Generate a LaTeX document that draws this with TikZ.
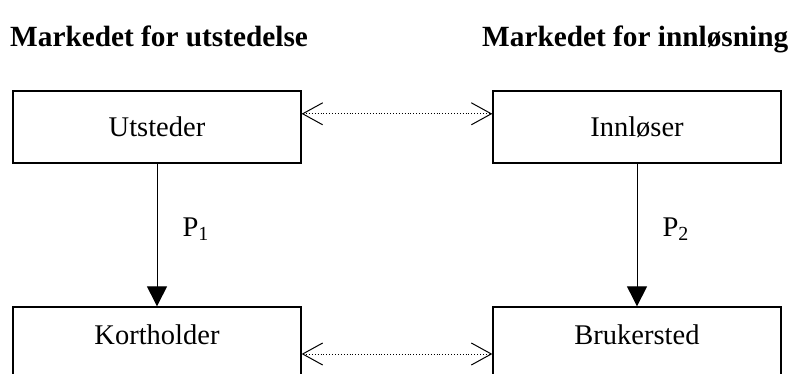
\documentclass[tikz,border=0pt]{standalone}
\usepackage{fontspec}
\setmainfont{Liberation Serif}
\usepackage{tikz}
\usetikzlibrary{positioning, calc, arrows.meta}

\begin{document}
\begin{tikzpicture}[x=1pt, y=-1pt,
        party/.style={draw, line width=1.3pt, minimum width=288pt, minimum height=72pt, inner sep=0pt, font=\fontsize{28.5}{34}\selectfont},
        market/.style={anchor=base west, inner sep=0pt, font=\bfseries\fontsize{29.3}{34}\selectfont},
        price/.style={right=25pt, yshift=6pt, inner sep=0pt, font=\fontsize{28.5}{34}\selectfont},
        pay/.style={-{Triangle[length=20pt, width=20pt]}, line width=1pt},
        link/.style={{Straight Barb[length=20pt, width=22pt, line width=1pt]}-{Straight Barb[length=20pt, width=22pt, line width=1pt]}, dotted, line width=0.9pt}]
        \useasboundingbox (0,0) rectangle (791,374);
        \clip (0,0) rectangle (791,374);
        \node[market] (t1) at (10,47) {Markedet for utstedelse};
        \node[market] (t2) at (482,47) {Markedet for innløsning};
        \node[party] (ut) at (157,127) {Utsteder};
        \node[party] (inn) at (637,127) {Innløser};
        \node[party, text depth=16pt] (kort) at (157,343) {Kortholder};
        \node[party, text depth=16pt] (bruk) at (637,343) {Brukersted};
        \draw[pay] (ut) -- node[price] (p1) {P\textsubscript{1}} (kort);
        \draw[pay] (inn) -- node[price] (p2) {P\textsubscript{2}} (bruk);
        \draw[link] ($(ut.north east)!.32!(ut.south east)$) -- ($(inn.north west)!.32!(inn.south west)$);
        \draw[link] ($(kort.north east)!.65!(kort.south east)$) -- ($(bruk.north west)!.65!(bruk.south west)$);
    \end{tikzpicture}
\end{document}
